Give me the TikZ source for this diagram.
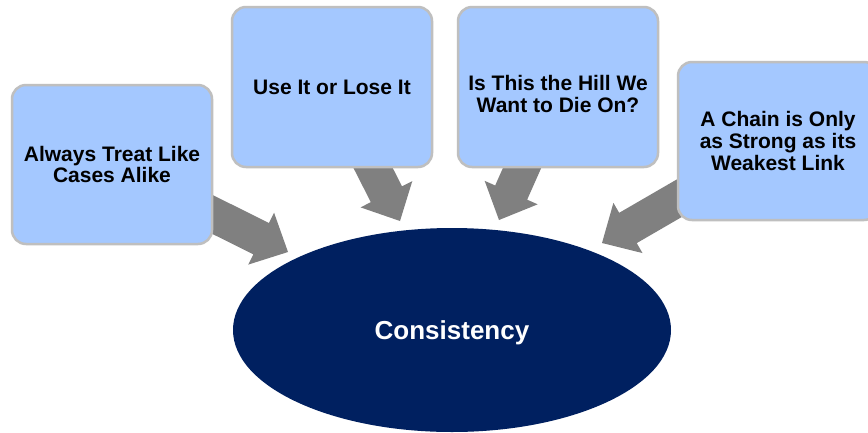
\documentclass[tikz,border=0pt]{standalone}
\usepackage{fontspec}
\setmainfont{Liberation Sans}
\usetikzlibrary{calc,backgrounds,shapes.geometric}
\definecolor{boxblue}{RGB}{164,200,255}
\definecolor{boxline}{RGB}{191,191,191}
\definecolor{hubnavy}{RGB}{0,32,96}
\definecolor{arrowgray}{RGB}{128,128,128}
% block arrow from #1 (tail) to #2 (tip)
\newcommand\blockarrow[2]{%
  \path ($(#2)!30pt!(#1)$) coordinate (hb);
  \fill[arrowgray] ($(#1)!17.5pt!90:(#2)$) -- ($(hb)!17.5pt!-90:(#1)$) -- ($(hb)!29pt!-90:(#1)$) -- (#2)
    -- ($(hb)!29pt!90:(#1)$) -- ($(hb)!17.5pt!90:(#1)$) -- ($(#1)!17.5pt!-90:(#2)$) -- cycle;}
\tikzset{
  cardfont/.style={font=\bfseries\fontsize{21}{21.6}\selectfont},
  card/.style={draw=boxline, line width=2.5pt, fill=boxblue, rounded corners=14pt,
    minimum width=200pt, minimum height=159pt, inner sep=0pt, align=center, cardfont},
  cardtext/.style={align=center, inner sep=0pt, cardfont},
  hub/.style={ellipse, fill=hubnavy, minimum width=438pt, minimum height=204pt, inner sep=0pt,
    text depth=0pt, text=white, font=\bfseries\fontsize{26}{30}\selectfont}
}
\begin{document}
\begin{tikzpicture}[x=1pt,y=-1pt]
\useasboundingbox (0,0) rectangle (868,432);
% nodes
\node[hub] (hub) at (452,330) {Consistency};
\node[card] (c1) at (112,164.5) {Always Treat Like\\Cases Alike};
\node[card, minimum height=160pt] (c2) at (332,87) {Use It or Lose It};
\node[card, minimum height=160pt] (c3) at (558,87) {};
\node[cardtext] (c3t) at (558,94) {Is This the Hill We\\Want to Die On?};
\node[card, minimum height=158pt] (c4) at (778,141) {A Chain is Only\\as Strong as its\\Weakest Link};
% arrow tips
\coordinate (t1) at (288,252);
\coordinate (t2) at (400,221);
\coordinate (t3) at (499,220);
\coordinate (t4) at (602,243);
\begin{scope}[on background layer]
  \fill[white] (0,0) rectangle (868,432);
  \blockarrow{c1.center}{t1}
  \blockarrow{c2.center}{t2}
  \blockarrow{c3.center}{t3}
  \blockarrow{c4.center}{t4}
\end{scope}
\end{tikzpicture}
\end{document}
